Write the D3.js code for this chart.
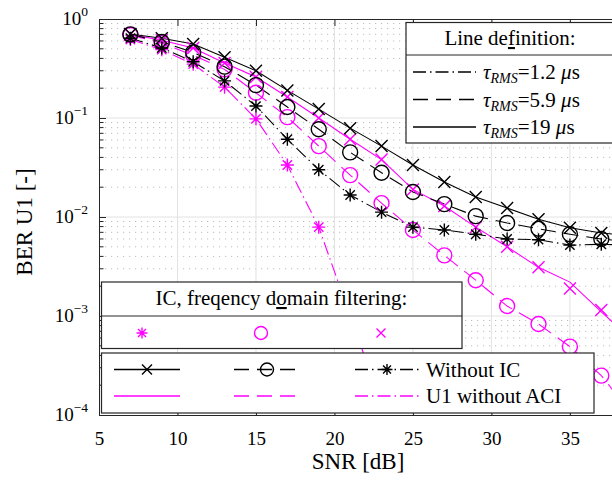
<!DOCTYPE html>
<html>
<head>
<meta charset="utf-8">
<script src="https://cdn.jsdelivr.net/npm/d3@7"></script>
<style>
  body { margin: 0; background: #fff; }
  text { font-family: "Liberation Serif", "DejaVu Serif", serif; fill: #000; }
</style>
</head>
<body>
<svg id="chart" width="612" height="480"></svg>
<script>
// SNR points (dB)
const snr = [7, 9, 11, 13, 15, 17, 19, 21, 23, 25, 27, 29, 31, 33, 35, 37, 39];

// Without IC (black), one per delay spread
const noIc19 = [0.705, 0.64, 0.56, 0.41, 0.30, 0.19, 0.123, 0.079, 0.052, 0.0335, 0.0226, 0.0159, 0.0123, 0.0095, 0.0078, 0.0069, 0.0064];
const noIc59 = [0.70, 0.586, 0.46, 0.33, 0.215, 0.129, 0.077, 0.045, 0.028, 0.0179, 0.0135, 0.0102, 0.0087, 0.0076, 0.0067, 0.0060, 0.0056];
const noIc12 = [0.64, 0.51, 0.37, 0.237, 0.132, 0.061, 0.030, 0.0167, 0.0112, 0.0079, 0.0074, 0.0067, 0.0060, 0.0059, 0.0052, 0.0053, 0.0052];

// U1 without ACI (magenta lines)
const noAci19 = [0.70, 0.61, 0.51, 0.36, 0.26, 0.163, 0.10, 0.061, 0.038, 0.019, 0.0129, 0.0079, 0.0050, 0.0031, 0.0022, 0.0011, 0.00057];
const noAci59 = [0.69, 0.57, 0.43, 0.31, 0.18, 0.102, 0.052, 0.0265, 0.0138, 0.0074, 0.0041, 0.0023, 0.00126, 0.00083, 0.00049, 0.00025, 0.0001];
const noAci12 = [0.62, 0.49, 0.35, 0.205, 0.098, 0.0335, 0.0079, 0.0010, 0.00013];

// IC, frequency domain filtering (magenta markers only)
const icCross = [0.70, 0.61, 0.51, 0.36, 0.26, 0.163, 0.10, 0.061, 0.038, 0.019, 0.0129, 0.0079, 0.0050, 0.0031, 0.0019, 0.00115];
const icCircle = [0.69, 0.57, 0.43, 0.31, 0.18, 0.102, 0.052, 0.0265, 0.0138, 0.0074, 0.0041, 0.0023, 0.00126, 0.00083, 0.00049, 0.00025];
const icStar = [0.62, 0.49, 0.35, 0.205, 0.098, 0.0335, 0.0079, 0.0010, 0.00013];

const xTicks = [5, 10, 15, 20, 25, 30, 35];
const yTicks = [1, 1e-1, 1e-2, 1e-3, 1e-4];
const yTickExp = ["0", "\u22121", "\u22122", "\u22123", "\u22124"];
const tauLabels = ["1.2", "5.9", "19"];

const MAGENTA = "#ff00ff";
const AXIS = "#262626";
const DASH = "15,8";
const DASHDOT = "13,4,1.5,4";

const svg = d3.select("#chart");

const x = d3.scaleLinear().domain([5, 38]).range([99, 617]);
const y = d3.scaleLog().domain([1e-4, 1]).range([415, 19]);

// minor grid (dotted) + major grid
const minorVals = [];
for (let k = -4; k < 0; k++) {
    for (let m = 2; m <= 9; m++) minorVals.push(m * Math.pow(10, k));
}
svg.append("g").selectAll("line").data(minorVals).enter().append("line")
    .attr("x1", 99).attr("x2", 617)
    .attr("y1", d => y(d)).attr("y2", d => y(d))
    .attr("stroke", "#bdbdbd").attr("stroke-dasharray", "1.2,4.8");

svg.append("g").selectAll("line").data(xTicks.slice(1)).enter().append("line")
    .attr("x1", d => x(d)).attr("x2", d => x(d))
    .attr("y1", 19).attr("y2", 415)
    .attr("stroke", "#e2e2e2");
svg.append("g").selectAll("line").data(yTicks.slice(1, 4)).enter().append("line")
    .attr("x1", 99).attr("x2", 617)
    .attr("y1", d => y(d)).attr("y2", d => y(d))
    .attr("stroke", "#e2e2e2");

// clip data to the plot box
svg.append("clipPath").attr("id", "plotclip")
    .append("rect").attr("x", 99).attr("y", 19).attr("width", 518).attr("height", 396);
const plot = svg.append("g").attr("clip-path", "url(#plotclip)");

const line = d3.line().x(d => x(d[0])).y(d => y(d[1]));

function markerPath(type, s) {
    if (type === "x") return `M${-s},${-s}L${s},${s}M${-s},${s}L${s},${-s}`;
    if (type === "*") {
        const t = s * 0.72;
        return `M0,${-s}V${s}M${-s},0H${s}M${-t},${-t}L${t},${t}M${-t},${t}L${t},${-t}`;
    }
    return null;
}

function drawMarkers(g, vals, type, color, size) {
    const pts = vals.map((v, i) => [snr[i], v]);
    if (type === "o") {
        g.selectAll(null).data(pts).enter().append("circle")
            .attr("cx", d => x(d[0])).attr("cy", d => y(d[1])).attr("r", size)
            .style("fill", "none").style("stroke", color).style("stroke-width", 1.4);
    } else {
        g.selectAll(null).data(pts).enter().append("path")
            .attr("transform", d => `translate(${x(d[0])},${y(d[1])})`)
            .attr("d", markerPath(type, size))
            .style("fill", "none").style("stroke", color).style("stroke-width", 1.4);
    }
}

const series = [
    { vals: noAci19, color: MAGENTA, dash: null },
    { vals: noAci59, color: MAGENTA, dash: DASH },
    { vals: noAci12, color: MAGENTA, dash: DASHDOT },
    { vals: noIc19, color: "#000", dash: null, marker: "x", size: 6 },
    { vals: noIc59, color: "#000", dash: DASH, marker: "o", size: 7.5 },
    { vals: noIc12, color: "#000", dash: DASHDOT, marker: "*", size: 6.5 }
];

series.forEach(s => {
    plot.append("path")
        .datum(s.vals.map((v, i) => [snr[i], v]))
        .attr("d", line)
        .style("fill", "none").style("stroke", s.color).style("stroke-width", 1.1)
        .attr("stroke-dasharray", s.dash);
});

drawMarkers(plot, icCross, "x", MAGENTA, 6);
drawMarkers(plot, icCircle, "o", MAGENTA, 7.5);
drawMarkers(plot, icStar, "*", MAGENTA, 6.5);
series.filter(s => s.marker).forEach(s => drawMarkers(plot, s.vals, s.marker, s.color, s.size));

// axes
const xAxis = svg.append("g").attr("transform", "translate(0,415)")
    .call(d3.axisBottom(x).tickValues(xTicks).tickSize(-7).tickSizeOuter(0).tickPadding(17));
xAxis.selectAll("text").style("font-size", "19px").style("font-family", "Liberation Serif");
xAxis.selectAll("line, path").attr("stroke", AXIS);

svg.append("g").attr("transform", "translate(0,19)")
    .call(d3.axisTop(x).tickValues(xTicks).tickSize(-7).tickSizeOuter(0).tickFormat(""))
    .selectAll("line, path").attr("stroke", AXIS);

const yAxis = svg.append("g").attr("transform", "translate(99,0)")
    .call(d3.axisLeft(y).tickValues(yTicks).tickSize(-7).tickSizeOuter(0).tickFormat(""));
yAxis.selectAll("line, path").attr("stroke", AXIS);

svg.append("g").selectAll("line").data(minorVals).enter().append("line")
    .attr("x1", 99).attr("x2", 103.5)
    .attr("y1", d => y(d)).attr("y2", d => y(d))
    .attr("stroke", AXIS);

const yLab = svg.append("g").selectAll("text").data(yTicks).enter().append("text")
    .attr("x", 88).attr("y", d => y(d) + 6)
    .attr("text-anchor", "end").style("font-size", "19px");
yLab.append("tspan").text("10");
yLab.append("tspan").attr("dy", -9).style("font-size", "13.5px").text((d, i) => yTickExp[i]);

svg.append("text").attr("x", 358).attr("y", 469).attr("text-anchor", "middle")
    .style("font-size", "23px").text("SNR [dB]");
svg.append("text").attr("transform", "translate(32,222) rotate(-90)").attr("text-anchor", "middle")
    .style("font-size", "23px").text("BER U1 [-]");

// ---- legends ----
function legendBox(x0, y0, w, h) {
    svg.append("rect").attr("x", x0).attr("y", y0).attr("width", w).attr("height", h)
        .style("fill", "#fff").style("stroke", AXIS).style("stroke-width", 1.2);
}
function legendLine(xa, xb, yy, color, dash, marker, size) {
    if (xb > xa) {
        svg.append("line").attr("x1", xa).attr("x2", xb).attr("y1", yy).attr("y2", yy)
            .style("stroke", color).style("stroke-width", 1.4)
            .attr("stroke-dasharray", dash);
    }
    if (!marker) return;
    const cx = (xa + xb) / 2;
    if (marker === "o") {
        svg.append("circle").attr("cx", cx).attr("cy", yy).attr("r", size)
            .style("fill", "none").style("stroke", color).style("stroke-width", 1.4);
    } else {
        svg.append("path").attr("transform", `translate(${cx},${yy})`).attr("d", markerPath(marker, size))
            .style("fill", "none").style("stroke", color).style("stroke-width", 1.4);
    }
}

// Line definition legend (top right)
legendBox(406, 22.5, 220, 120.5);
svg.append("line").attr("x1", 406).attr("x2", 626).attr("y1", 55).attr("y2", 55).style("stroke", AXIS);
const ttl = svg.append("text").attr("x", 510).attr("y", 45).attr("text-anchor", "middle").style("font-size", "21px");
ttl.append("tspan").text("Line de");
ttl.append("tspan").style("text-decoration", "underline").text("f");
ttl.append("tspan").text("inition:");

const tauDash = [DASHDOT, DASH, null];
tauLabels.forEach((lab, i) => {
    const yy = 72 + i * 27.5;
    legendLine(413, 476, yy, "#000", tauDash[i]);
    const t = svg.append("text").attr("x", 483).attr("y", yy + 7).style("font-size", "21px");
    t.append("tspan").style("font-style", "italic").text("\u03c4");
    t.append("tspan").attr("dy", 4).style("font-style", "italic").style("font-size", "14px").text("RMS");
    t.append("tspan").attr("dy", -4).text("=" + lab + " ");
    t.append("tspan").style("font-style", "italic").text("\u03bc");
    t.append("tspan").text("s");
});

// IC legend (markers only)
legendBox(101.5, 282, 360.5, 66.5);
svg.append("line").attr("x1", 101.5).attr("x2", 462).attr("y1", 316).attr("y2", 316).style("stroke", AXIS);
const ict = svg.append("text").attr("x", 281.5).attr("y", 305).attr("text-anchor", "middle").style("font-size", "21px");
ict.append("tspan").text("IC, freqency d");
ict.append("tspan").style("text-decoration", "underline").text("o");
ict.append("tspan").text("main filtering:");
[["*", 142, 5.5], ["o", 261, 6.5], ["x", 381, 4.5]].forEach(m => {
    legendLine(m[1], m[1], 333, MAGENTA, null, m[0], m[2]);
});

// Without IC / U1 without ACI legend
legendBox(101.5, 353, 492.5, 60);
const cols = [[114, 180], [234, 300], [355, 419]];
const rowMarkers = [["x", 5], ["o", 6.5], ["*", 5.5]];
const colDash = [null, DASH, DASHDOT];
cols.forEach((c, i) => {
    legendLine(c[0], c[1], 369.5, "#000", colDash[i], rowMarkers[i][0], rowMarkers[i][1]);
    legendLine(c[0], c[1], 396, MAGENTA, colDash[i]);
});
svg.append("text").attr("x", 426).attr("y", 377).style("font-size", "21px").text("Without IC");
svg.append("text").attr("x", 426).attr("y", 403).style("font-size", "21px").text("U1 without ACI");
</script>
</body>
</html>
